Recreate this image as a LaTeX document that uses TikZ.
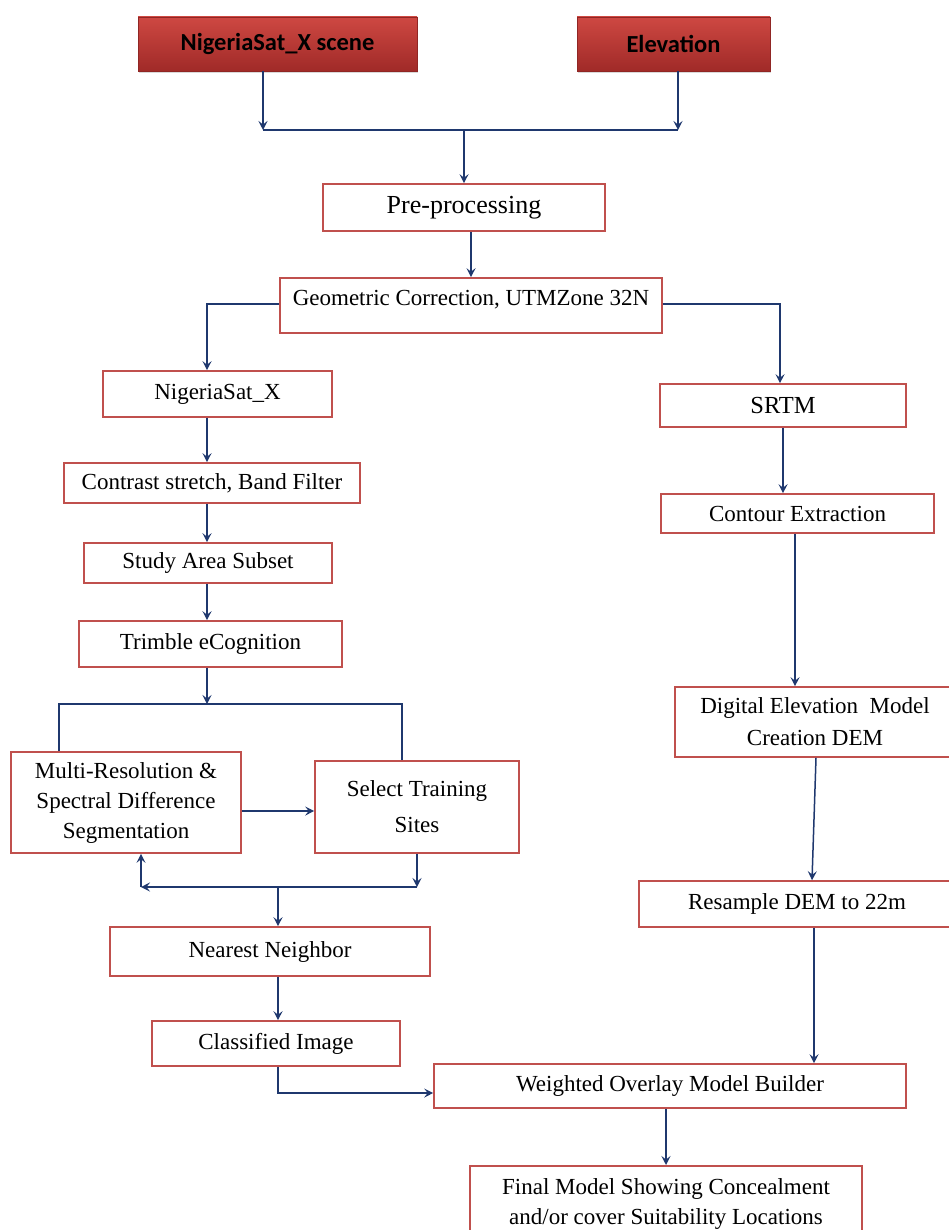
\documentclass[tikz,border=0pt]{standalone}
\usepackage{fontspec}
\setmainfont{Liberation Serif}
\newfontfamily\calfont{Carlito}
\usetikzlibrary{arrows.meta,shadows}
\definecolor{boxred}{RGB}{192,80,77}
\definecolor{linkblue}{RGB}{31,56,110}
\definecolor{redtop}{RGB}{206,72,66}
\definecolor{redbot}{RGB}{160,42,40}
\begin{document}
\begin{tikzpicture}[x=1pt, y=-1pt,
    box/.style={draw=boxred, line width=1.6pt, fill=white, inner sep=0pt, align=center,
        font=\fontsize{23}{30}\selectfont},
    topbox/.style={draw=redbot!90!black, line width=0.6pt, top color=redtop, bottom color=redbot,
        inner sep=0pt, font=\calfont\bfseries\fontsize{24.5}{28}\selectfont,
        drop shadow={opacity=0.3, shadow xshift=1pt, shadow yshift=-2pt}},
    arr/.style={draw=linkblue, line width=1.5pt, -{Stealth[length=9pt,width=9pt,inset=3.5pt]}},
    ln/.style={draw=linkblue, line width=1.5pt}]
    \useasboundingbox (0,0) rectangle (948,1230);

    % input data
    \node[topbox, minimum width=279pt, minimum height=54pt] (scene) at (277.5,44) {NigeriaSat\_X scene};
    \node[topbox, minimum width=193pt, minimum height=54pt] (elev) at (673.5,44) {Elevation};

    % common steps
    \node[box, minimum width=282pt, minimum height=47pt, font=\fontsize{26}{30}\selectfont] (pre) at (464,207.5) {Pre-processing};
    \node[box, minimum width=382pt, minimum height=55pt, text height=15pt, text depth=15pt] (geo) at (471,305.5) {Geometric Correction, UTMZone 32N};

    % image branch
    \node[box, minimum width=229pt, minimum height=46pt] (nas) at (217.5,394) {NigeriaSat\_X};
    \node[box, minimum width=296pt, minimum height=40pt] (con) at (212,483) {Contrast stretch, Band Filter};
    \node[box, minimum width=248pt, minimum height=40pt] (sub) at (208,563) {Study Area Subset};
    \node[box, minimum width=263pt, minimum height=46pt] (tri) at (210.5,644) {Trimble eCognition};
    \node[box, minimum width=230pt, minimum height=101pt] (mrs) at (126,802.5) {Multi-Resolution \&\\Spectral Difference\\Segmentation};
    \node[box, minimum width=204pt, minimum height=92pt, font=\fontsize{23}{36}\selectfont] (sel) at (417,807) {Select Training\\Sites};
    \node[box, minimum width=320pt, minimum height=49pt] (nn) at (270,951.5) {Nearest Neighbor};
    \node[box, minimum width=248pt, minimum height=45pt] (cls) at (276,1043.5) {Classified Image};

    % elevation branch
    \node[box, minimum width=246pt, minimum height=43pt, font=\fontsize{24.5}{30}\selectfont] (srtm) at (783,405.5) {SRTM};
    \node[box, minimum width=273pt, minimum height=39pt] (cex) at (797.5,513.5) {Contour Extraction};
    \node[box, minimum width=280pt, minimum height=70pt, font=\fontsize{23}{32}\selectfont] (dem) at (815,722) {Digital Elevation\ \ Model\\Creation DEM};
    \node[box, minimum width=316pt, minimum height=46pt] (res) at (797,904) {Resample DEM to 22m};

    % output
    \node[box, minimum width=472pt, minimum height=44pt] (wob) at (670,1086) {Weighted Overlay Model Builder};
    \node[box, minimum width=392pt, minimum height=76pt, anchor=north] (fin) at (666,1165) {Final Model Showing Concealment\\and/or cover Suitability Locations};

    % joins
    \coordinate (jl) at (263,130);
    \coordinate (jr) at (678,130);
    \coordinate (gl) at (207,304);
    \coordinate (gr) at (780,304);
    \coordinate (sp) at (207,704);
    \coordinate (spl) at (59,704);
    \coordinate (spr) at (402,704);
    \coordinate (mx) at (0,811);
    \coordinate (jb) at (417,887);
    \coordinate (jbl) at (141,887);
    \coordinate (jbm) at (278,887);
    \coordinate (cw) at (278,1093);
    \coordinate (rc) at (795,0);
    \coordinate (rd) at (816,0);
    \coordinate (re) at (812,0);
    \coordinate (rf) at (814,0);

    \draw[arr] (scene.south -| jl) -- (jl);
    \draw[arr] (elev.south -| jr) -- (jr);
    \draw[ln] (jl) -- (jr);
    \draw[arr] (pre.north |- jl) -- (pre.north);
    \draw[arr] (pre.south -| geo.north) -- (geo.north);
    \draw[arr] (geo.west |- gl) -- (gl) -- (nas.north -| gl);
    \draw[arr] (geo.east |- gr) -- (gr) -- (srtm.north -| gr);

    % left column
    \foreach \a/\b in {nas/con, con/sub, sub/tri}
        \draw[arr] (\a.south -| gl) -- (\b.north -| gl);
    \draw[arr] (tri.south -| sp) -- (sp);
    \draw[ln] (mrs.north -| spl) -- (spl) -- (spr) -- (sel.north -| spr);
    \draw[arr] (mrs.east |- mx) -- (sel.west |- mx);
    \draw[arr] (sel.south) -- (jb);
    \draw[arr] (jb) -- (jbl);
    \draw[arr] (jbl) -- (mrs.south -| jbl);
    \draw[arr] (jbm) -- (nn.north -| jbm);
    \draw[arr] (nn.south -| jbm) -- (cls.north -| jbm);
    \draw[arr] (cls.south -| cw) -- (cw) -- (wob.west |- cw);

    % right column
    \draw[arr] (srtm.south) -- (cex.north -| srtm.south);
    \draw[arr] (cex.south -| rc) -- (dem.north -| rc);
    \draw[arr] (dem.south -| rd) -- (res.north -| re);
    \draw[arr] (res.south -| rf) -- (wob.north -| rf);
    \draw[arr] (wob.south -| fin.north) -- (fin.north);
\end{tikzpicture}
\end{document}
